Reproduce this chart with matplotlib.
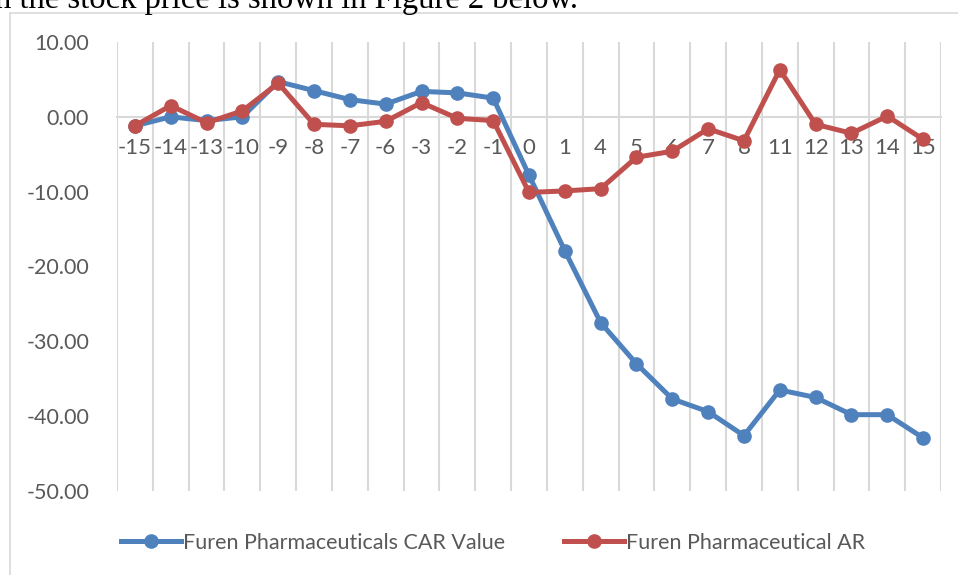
import matplotlib.pyplot as plt
import numpy as np
from matplotlib.lines import Line2D

# event-window days
days = ["-15", "-14", "-13", "-10", "-9", "-8", "-7", "-6", "-3", "-2", "-1",
        "0", "1", "4", "5", "6", "7", "8", "11", "12", "13", "14", "15"]

car_values = [-1.2, 0.0, -0.5, 0.0, 4.7, 3.5, 2.3, 1.7, 3.4, 3.2, 2.5,
              -7.8, -17.9, -27.5, -33.0, -37.7, -39.4, -42.6, -36.5, -37.5, -39.8, -39.8, -42.9]
ar_values = [-1.2, 1.5, -0.8, 0.8, 4.5, -1.0, -1.2, -0.6, 1.9, -0.2, -0.5,
             -10.1, -9.9, -9.6, -5.4, -4.6, -1.6, -3.2, 6.3, -1.0, -2.2, 0.1, -3.0]

y_ticks = [10, 0, -10, -20, -30, -40, -50]

blue = "#4f81bd"
red = "#c0504d"
grid_col = "#d9d9d9"
label_col = "#595959"

W, H = 958, 575
fig = plt.figure(figsize=(W / 100, H / 100), dpi=100)
ax = fig.add_axes([117 / W, 1 - 491 / H, (941 - 117) / W, (491 - 42) / H])

x = np.arange(len(days))
ax.plot(x, car_values, color=blue, lw=3.6, marker="o", ms=9.5,
        label="Furen Pharmaceuticals CAR Value", zorder=3)
ax.plot(x, ar_values, color=red, lw=3.6, marker="o", ms=9.5,
        label="Furen Pharmaceutical AR", zorder=4)

ax.set_xlim(-0.5, len(days) - 0.5)
ax.set_ylim(-50, 10)
ax.set_yticks(y_ticks)
ax.set_yticklabels([f"{v:.2f}" for v in y_ticks])
ax.set_xticks(x)
ax.set_xticklabels(days)
ax.set_xticks(np.arange(-0.5, len(days), 1), minor=True)

ax.grid(which="minor", axis="x", color=grid_col, lw=1.5)
ax.set_axisbelow(True)

for s in ["top", "right", "left"]:
    ax.spines[s].set_visible(False)
ax.spines["bottom"].set_position(("data", 0))
ax.spines["bottom"].set_color(grid_col)
ax.spines["bottom"].set_linewidth(1.5)
ax.spines["bottom"].set_zorder(0.5)

ax.tick_params(axis="both", which="both", length=0)
ax.tick_params(axis="x", pad=15.5, labelsize=16, labelcolor=label_col)
ax.tick_params(axis="y", pad=20, labelsize=15.5, labelcolor=label_col)
for lab in ax.get_xticklabels() + ax.get_yticklabels():
    lab.set_fontfamily("Lato")

fig.legend(loc="center", bbox_to_anchor=(493 / W, 1 - 543 / H), ncol=2, frameon=False,
           prop={"family": "Lato", "size": 15.5}, labelcolor=label_col,
           handlelength=2.8, handletextpad=0.1, columnspacing=2.7)

# chart frame
fig.add_artist(Line2D([10 / W, 1], [1 - 12.5 / H, 1 - 12.5 / H], color=grid_col, lw=1.2))
fig.add_artist(Line2D([10 / W, 10 / W], [0, 1 - 12.5 / H], color=grid_col, lw=1.2))

# clipped sentence from the surrounding document
fig.text(-5 / W, 1 - 8 / H, "n the stock price is shown in Figure 2 below.",
         family="Liberation Serif", fontsize=23.5, va="baseline", ha="left")

fig.savefig("out.png", dpi=100)
